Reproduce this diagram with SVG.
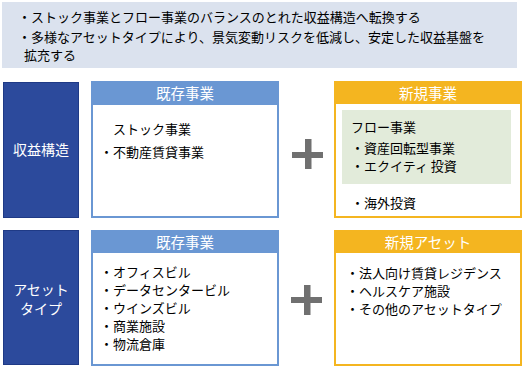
<svg xmlns="http://www.w3.org/2000/svg" width="525" height="369" viewBox="0 0 525 369">
<style>
text{font-family:"Noto Sans CJK JP","Noto Sans CJK SC",sans-serif;}
.t{font-size:13px;fill:#000;}
.b{font-size:13px;fill:#000;}
.h{font-size:14.5px;fill:#fff;text-anchor:middle;}
.w{font-size:14px;fill:#fff;text-anchor:middle;}
.side{fill:#2C4A9C;stroke:#1F3A86;stroke-width:1;}
.exf{fill:#fff;stroke:#6A97D3;stroke-width:2;}
.exh{fill:#6A97D3;}
.nwf{fill:#fff;stroke:#F4B520;stroke-width:2;}
.nwh{fill:#F4B520;}
.plus{fill:#707070;}
</style>
<g id="banner">
<rect x="2" y="2" width="515" height="66" fill="#DBE2EE"/>
<text class="t" x="18" y="22">・ストック事業とフロー事業のバランスのとれた収益構造へ転換する</text>
<text class="t" x="18" y="42">・多様なアセットタイプにより、景気変動リスクを低減し、安定した収益基盤を</text>
<text class="t" x="24" y="60">拡充する</text>
</g>
<g id="label-revenue">
<rect class="side" x="3.5" y="82.5" width="75" height="135"/>
<text class="w" x="41" y="155">収益構造</text>
</g>
<g id="existing-business">
<rect class="exf" x="92" y="82" width="186" height="135"/>
<rect class="exh" x="92" y="82" width="186" height="23"/>
<text class="h" x="185" y="99">既存事業</text>
<text class="b" x="113" y="134">ストック事業</text>
<text class="b" x="100" y="157">・不動産賃貸事業</text>
</g>
<g id="new-business">
<rect class="nwf" x="335" y="82" width="186" height="135"/>
<rect class="nwh" x="335" y="82" width="186" height="22"/>
<text class="h" x="428" y="99">新規事業</text>
<rect x="342" y="110" width="169" height="74" fill="#E2EBDA"/>
<text class="b" x="351" y="132">フロー事業</text>
<text class="b" x="351" y="153">・資産回転型事業</text>
<text class="b" x="351" y="171">・エクイティ 投資</text>
<text class="b" x="351" y="208">・海外投資</text>
</g>
<g id="label-asset">
<rect class="side" x="3.5" y="230.5" width="75" height="134"/>
<text class="w" x="41" y="295">アセット</text>
<text class="w" x="41" y="314">タイプ</text>
</g>
<g id="existing-assets">
<rect class="exf" x="92" y="231" width="186" height="134"/>
<rect class="exh" x="92" y="231" width="186" height="22"/>
<text class="h" x="185" y="248">既存事業</text>
<text class="b" x="100" y="277">・オフィスビル</text>
<text class="b" x="100" y="295">・データセンタービル</text>
<text class="b" x="100" y="313">・ウインズビル</text>
<text class="b" x="100" y="331">・商業施設</text>
<text class="b" x="100" y="349">・物流倉庫</text>
</g>
<g id="new-assets">
<rect class="nwf" x="335" y="231" width="186" height="134"/>
<rect class="nwh" x="335" y="231" width="186" height="22"/>
<text class="h" x="428" y="248">新規アセット</text>
<text class="b" x="346" y="278">・法人向け賃貸レジデンス</text>
<text class="b" x="346" y="296">・ヘルスケア施設</text>
<text class="b" x="346" y="314">・その他のアセットタイプ</text>
</g>
<g id="connectors">
<rect class="plus" x="292" y="152" width="31" height="6"/>
<rect class="plus" x="305" y="139" width="6.5" height="30"/>
<rect class="plus" x="291" y="297" width="31" height="6"/>
<rect class="plus" x="304" y="285" width="6.5" height="30"/>
</g>
</svg>
